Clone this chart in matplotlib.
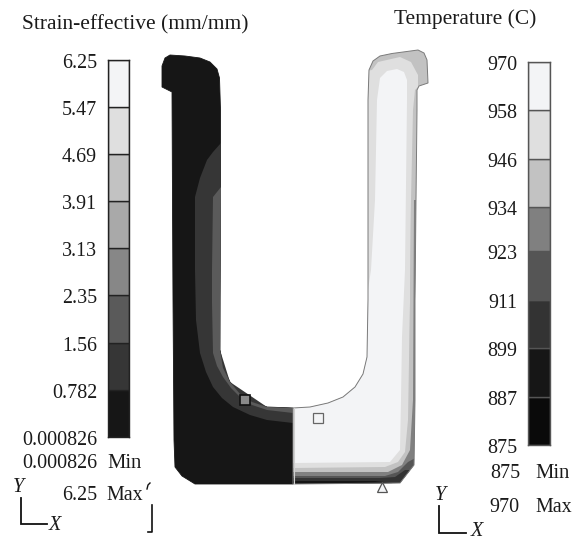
import matplotlib
matplotlib.use("Agg")
import matplotlib.pyplot as plt
from matplotlib.patches import Polygon
from matplotlib.transforms import ScaledTranslation

plt.rcParams['font.family'] = ['Liberation Serif', 'DejaVu Serif']
W, H = 574, 541

strain_levels = [0.000826, 0.782, 1.56, 2.35, 3.13, 3.91, 4.69, 5.47, 6.25]
strain_labels = ['0.000826', '0.782', '1.56', '2.35', '3.13', '3.91', '4.69', '5.47', '6.25']
strain_colors = ['#161616', '#363636', '#5a5a5a', '#878787', '#a9a9a9', '#c2c2c2', '#dfdfdf', '#f3f4f6']
temp_levels = [875, 887, 899, 911, 923, 934, 946, 958, 970]
temp_labels = ['875', '887', '899', '911', '923', '934', '946', '958', '970']
temp_colors = ['#0a0a0a', '#161616', '#333333', '#555555', '#808080', '#c2c2c2', '#dfdfdf', '#f3f4f6']

fig = plt.figure(figsize=(W / 100, H / 100), dpi=100, facecolor='white')
ax = fig.add_axes([0, 0, 1, 1])
ax.set_xlim(0, W)
ax.set_ylim(H, 0)
ax.axis('off')

def colorbar(x0, x1, y0, y1, levels, labels, colors, edge):
    c = fig.add_axes([x0 / W, 1 - y1 / H, (x1 - x0) / W, (y1 - y0) / H])
    for lo, hi, col in zip(levels[:-1], levels[1:], colors):
        c.bar(0, hi - lo, bottom=lo, width=1, color=col, edgecolor=edge, linewidth=1.0)
    c.set_xlim(-0.5, 0.5)
    c.set_ylim(levels[0], levels[-1])
    c.set_xticks([])
    c.set_yticks(levels, labels)
    c.tick_params(axis='y', length=0, pad=7.5, labelsize=14.4, colors='#1a1a1a')
    shift = ScaledTranslation(0, -1 / 100, fig.dpi_scale_trans)
    for lab in c.get_yticklabels():
        lab.set_transform(lab.get_transform() + shift)
    for s in c.spines.values():
        s.set_color(edge)
        s.set_linewidth(1.0)

colorbar(107.5, 129, 60, 437, strain_levels, strain_labels, strain_colors, '#222222')
colorbar(527.5, 550, 62, 445, temp_levels, temp_labels, temp_colors, '#555555')

# Left half: effective strain contour
left_outer = [(170, 55), (185, 56), (200, 58), (210, 62), (217, 69), (219.5, 78), (220.5, 110), (220.5, 200),
              (220, 300), (220, 350), (223, 368), (230, 382), (240, 394), (252, 402), (267, 407), (293, 408),
              (293, 484), (195, 484), (182, 476), (175, 467), (174, 440), (173, 300), (172.5, 200), (172, 92),
              (162, 87), (162, 66), (165, 58)]
left_band1 = [(221, 143), (213, 152), (207, 160), (200, 178), (195, 197), (195, 270), (196, 320), (200, 353),
              (206, 372), (213, 387), (222, 398), (233, 407), (250, 415), (267, 420), (293, 423), (293, 408),
              (267, 407), (230, 382), (220, 350)]
left_band2 = [(221, 187), (213, 197), (212, 270), (212, 303), (213, 353), (217, 366), (223, 377), (231, 388),
              (240, 397), (252, 405), (267, 410), (293, 413), (293, 408), (267, 407), (252, 402), (240, 394),
              (230, 382), (223, 368), (220, 350)]
ax.add_patch(Polygon(left_outer, closed=True, fc='#161616', ec='#161616', lw=0.6))
ax.add_patch(Polygon(left_band1, closed=True, fc='#363636', ec='none'))
ax.add_patch(Polygon(left_band2, closed=True, fc='#5a5a5a', ec='none'))

# Right half: temperature contour
right_outer = [(293, 408), (310, 407), (328, 403), (343, 397), (355, 387), (363, 374), (367, 357), (368, 300),
               (368, 100), (369, 70), (373, 61), (380, 56), (392, 53.5), (418, 50), (424, 53), (427, 60),
               (428, 83), (419, 86), (417, 90), (417, 110), (416, 200), (415, 300), (415, 400), (414, 465),
               (400, 483), (293, 484)]
clip = Polygon(right_outer, closed=True, fc='#c2c2c2', ec='none', zorder=2)
ax.add_patch(clip)
right_layers = [
    ('#dfdfdf', [(293, 395), (350, 370), (360, 72), (372, 70), (378, 62), (400, 57), (411, 62), (418, 75), (418, 87),
                 (415, 90), (413, 110), (411, 200), (410, 303), (409, 420), (407, 470), (293, 470)]),
    ('#f3f4f6', [(293, 395), (350, 370), (360, 300), (368, 290), (371, 270), (375, 200), (377, 100), (380, 78),
                 (387, 71), (397, 69), (404, 72), (407, 80), (407, 100), (405, 270), (402, 337), (401, 400),
                 (400, 450), (390, 462), (293, 463)]),
    ('#c2c2c2', [(293, 468), (385, 467), (398, 462), (405, 452), (408, 420), (410, 303), (411, 200), (430, 200),
                 (430, 490), (293, 490)]),
    ('#808080', [(293, 472), (388, 472), (402, 465), (410, 450), (413, 400), (414, 200), (430, 200), (430, 490),
                 (293, 490)]),
    ('#555555', [(293, 476), (385, 476), (398, 472), (408, 462), (430, 450), (430, 490), (293, 490)]),
    ('#333333', [(293, 478), (380, 478), (395, 477), (405, 470), (430, 470), (430, 490), (293, 490)]),
    ('#161616', [(293, 481), (375, 481), (392, 483), (392, 490), (293, 490)]),
]
for col, pts in right_layers:
    p = Polygon(pts, closed=True, fc=col, ec='none', zorder=3)
    ax.add_patch(p)
    p.set_clip_path(clip)
ax.add_patch(Polygon(right_outer, closed=True, fc='none', ec='#7a7a7a', lw=0.7, zorder=4))
ax.plot([293.5, 293.5], [408, 484], color='#d0d0d0', lw=0.8, zorder=5)

# Min / max element markers
ax.plot([245], [400], marker='s', ms=7, mfc='#8a8a8a', mec='#111111', mew=1.2, zorder=6)
ax.plot([318], [418], marker='s', ms=7, mfc='#f3f4f6', mec='#666666', mew=0.9, zorder=6)
ax.plot([382], [486.5], marker='^', ms=6.5, mfc='#f3f4f6', mec='#555555', mew=0.9, zorder=6)

# Text
tc = '#1a1a1a'
fs = 14.4
ax.text(22, 25, 'Strain-effective (mm/mm)', fontsize=15.5, color=tc, ha='left', va='center')
ax.text(394, 19, 'Temperature (C)', fontsize=15.4, color=tc, ha='left', va='center')
ax.text(97, 463, '0.000826', fontsize=fs, color=tc, ha='right', va='center')
ax.text(107, 463, 'Min', fontsize=fs + 0.5, color=tc, ha='left', va='center')
ax.text(97, 496, '6.25', fontsize=fs, color=tc, ha='right', va='center')
ax.text(106, 496, 'Max', fontsize=fs, color=tc, ha='left', va='center')
ax.text(520, 473, '875', fontsize=fs, color=tc, ha='right', va='center')
ax.text(535, 473, 'Min', fontsize=fs + 0.5, color=tc, ha='left', va='center')
ax.text(520, 507, '970', fontsize=fs, color=tc, ha='right', va='center')
ax.text(535, 507, 'Max', fontsize=fs, color=tc, ha='left', va='center')

# Coordinate triads
ax.plot([21, 21, 47], [498, 524, 524], color='#111111', lw=1.3, solid_joinstyle='miter')
ax.text(18, 487, 'Y', fontsize=14.5, style='italic', color=tc, ha='center', va='center')
ax.text(55, 525, 'X', fontsize=14.5, style='italic', color=tc, ha='center', va='center')
ax.plot([439, 439, 466], [506, 533, 533], color='#111111', lw=1.3, solid_joinstyle='miter')
ax.text(440, 496, 'Y', fontsize=14.5, style='italic', color=tc, ha='center', va='center')
ax.text(477, 532, 'X', fontsize=14.5, style='italic', color=tc, ha='center', va='center')

# Stray marks in the reference
ax.plot([152, 152, 148], [505, 532, 532], color='#111111', lw=1.2)
ax.plot([147, 148, 150], [489, 485, 483], color='#111111', lw=1.0)

fig.savefig('out.png', dpi=100)
